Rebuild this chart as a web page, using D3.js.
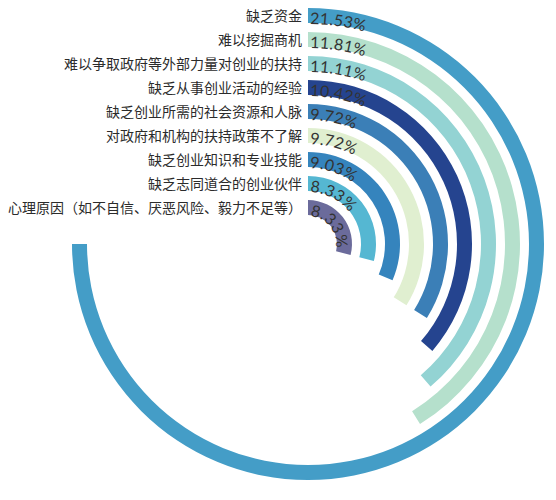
<!DOCTYPE html>
<html>
<head>
<meta charset="utf-8">
<script src="https://cdn.jsdelivr.net/npm/d3@7"></script>
<style>
  body { margin: 0; background: #fff; }
</style>
</head>
<body>
<div id="chart"></div>
<script>
const categories = [
  "缺乏资金",
  "难以挖掘商机",
  "难以争取政府等外部力量对创业的扶持",
  "缺乏从事创业活动的经验",
  "缺乏创业所需的社会资源和人脉",
  "对政府和机构的扶持政策不了解",
  "缺乏创业知识和专业技能",
  "缺乏志同道合的创业伙伴",
  "心理原因（如不自信、厌恶风险、毅力不足等）"
];
const values = [21.53, 11.81, 11.11, 10.42, 9.72, 9.72, 9.03, 8.33, 8.33];
const valueLabels = ["21.53%", "11.81%", "11.11%", "10.42%", "9.72%", "9.72%", "9.03%", "8.33%", "8.33%"];
const colors = ["#449dc7", "#b5e0cc", "#93d3d3", "#25448f", "#3b7fb7", "#e0efd0", "#3584bd", "#55b7d2", "#6b6b9b"];

const width = 556, height = 500;
const cx = 308, cy = 244;
const innerR = 29, outerR = 236;

const svg = d3.select("#chart").append("svg")
  .attr("width", width)
  .attr("height", height);

const g = svg.append("g").attr("transform", "translate(" + cx + "," + cy + ")");

// angle: largest value takes three quarters of the circle
const angle = d3.scaleLinear()
  .domain([0, d3.max(values)])
  .range([0, 1.5 * Math.PI]);

const r = d3.scaleBand()
  .domain(categories)
  .range([outerR, innerR])
  .paddingInner(0.375)
  .paddingOuter(0);

const arc = d3.arc()
  .innerRadius((d, i) => r(categories[i]))
  .outerRadius((d, i) => r(categories[i]) + r.bandwidth())
  .startAngle(0)
  .endAngle(d => angle(d));

g.selectAll("path.bar")
  .data(values)
  .join("path")
  .attr("class", "bar")
  .attr("fill", (d, i) => colors[i])
  .attr("d", (d, i) => arc(d, i));

// paths for the curved value labels
const defs = svg.append("defs");
defs.selectAll("path")
  .data(values)
  .join("path")
  .attr("id", (d, i) => "tp" + i)
  .attr("d", (d, i) => {
    const rr = r(categories[i]) - 1;
    const p = d3.path();
    p.arc(0, 0, rr, -Math.PI / 2, angle(d) - Math.PI / 2);
    return p.toString();
  });

g.selectAll("text.val")
  .data(values)
  .join("text")
  .attr("class", "val")
  .attr("font-family", "Lato, 'Open Sans', sans-serif")
  .attr("font-size", 16)
  .attr("letter-spacing", 0.3)
  .attr("fill", "#333")
  .append("textPath")
  .attr("href", (d, i) => "#tp" + i)
  .attr("startOffset", 2)
  .text((d, i) => valueLabels[i]);

// category labels to the left of the arcs' start
g.selectAll("text.cat")
  .data(categories)
  .join("text")
  .attr("class", "cat")
  .attr("x", -6)
  .attr("y", d => -(r(d) + r.bandwidth() / 2))
  .attr("dy", "0.4em")
  .attr("text-anchor", "end")
  .attr("font-family", "'Noto Sans CJK SC', sans-serif")
  .attr("font-size", 14)
  .attr("fill", "#2b2b2b")
  .text(d => d);
</script>
</body>
</html>
